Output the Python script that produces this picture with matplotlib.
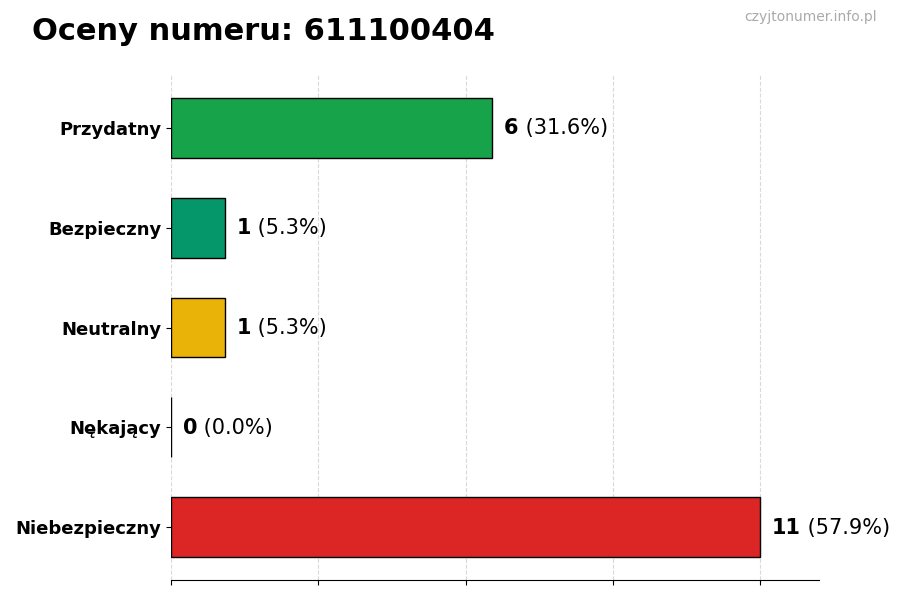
import matplotlib
matplotlib.use("Agg")
import matplotlib.pyplot as plt
import numpy as np

categories = ["Przydatny", "Bezpieczny", "Neutralny", "Nękający", "Niebezpieczny"]
counts = [6, 1, 1, 0, 11]
percents = [31.6, 5.3, 5.3, 0.0, 57.9]
colors = ["#16a34a", "#059669", "#eab308", "#9ca3af", "#dc2626"]

fig = plt.figure(figsize=(9, 6), dpi=100)
ax = fig.add_axes([0.19, 0.0333, 0.72, 0.8417])

y = np.arange(len(categories))
ax.barh(y, counts, height=0.6, color=colors, edgecolor="black", linewidth=1, zorder=2)
ax.invert_yaxis()
ax.set_yticks(y)
ax.set_yticklabels(categories, fontsize=13, fontweight="bold")
ax.set_xlim(0, max(counts) * 1.1)
ax.set_xticks(np.linspace(0, max(counts), 5))
ax.set_xticklabels([])
ax.grid(axis="x", linestyle="--", color="#d9d9d9", linewidth=0.8, zorder=0)
for s in ["top", "right", "left"]:
    ax.spines[s].set_visible(False)

for yi, c, p in zip(y, counts, percents):
    t1 = ax.text(c + 0.22, yi + 0.005, f"{c}", fontsize=15, fontweight="bold", va="center", ha="left")
    ax.annotate(f" ({p:.1f}%)", xy=(1, 0.5), xycoords=t1, va="center", ha="left", fontsize=15)

fig.text(0.036, 0.947, "Oceny numeru: 611100404", fontsize=22, fontweight="bold", ha="left", va="center")
fig.text(0.974, 0.971, "czyjtonumer.info.pl", fontsize=10, color="#aaaaaa", ha="right", va="center")

fig.savefig("out.png", dpi=100)
